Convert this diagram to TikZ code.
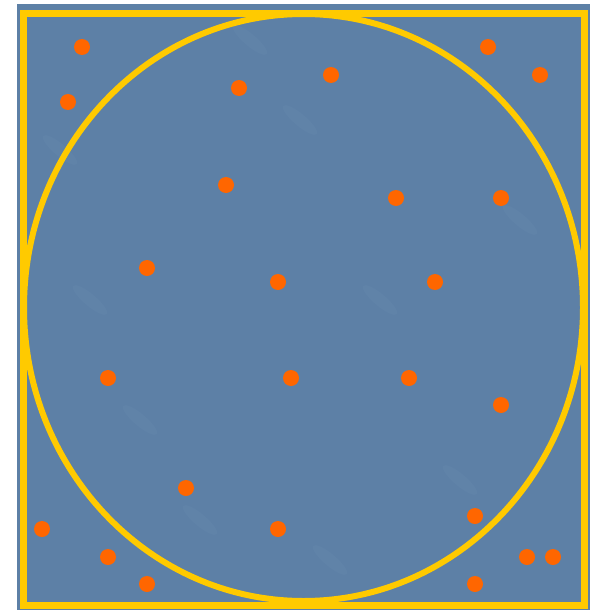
\documentclass[tikz,border=0pt]{standalone}
\begin{document}
\begin{tikzpicture}[x=1pt,y=-1pt,
  dot/.style={circle,fill=dotorange,draw=none,minimum size=16pt,inner sep=0pt},
  frame/.style={draw=frameyellow,line width=7pt},
  ring/.style={draw=frameyellow,line width=6pt}]
\definecolor{bgblue}{RGB}{93,128,166}
\definecolor{bglight}{RGB}{110,145,182}
\definecolor{frameyellow}{RGB}{255,202,0}
\definecolor{dotorange}{RGB}{255,102,0}
\useasboundingbox (0,0) rectangle (590,610);
\fill[white] (0,0) rectangle (590,610);
\fill[bgblue] (17,4) rectangle (590,610);
% subtle texture streaks
\foreach \a/\b in {60/150,140/420,300/120,380/300,460/480,200/520,520/220,90/300,330/560,250/40}{
  \fill[bglight,opacity=0.18] (\a,\b) ellipse [x radius=22, y radius=6, rotate=-40];
}
\draw[frame] (23,13.5) rectangle (584,605);
\draw[ring] (303.5,307.5) ellipse [x radius=279.5, y radius=293.5];
\foreach \n/\x/\y in {1/82/47,2/488/47,3/540/75,4/68/102,5/239/88,6/331/75,
  7/226/185,8/396/198,9/501/198,10/147/268,11/278/282,12/435/282,
  13/108/378,14/291/378,15/409/378,16/501/405,17/186/488,18/42/529,
  19/278/529,20/475/516,21/108/557,22/527/557,23/553/557,24/147/584,25/475/584}{
  \node[dot] (d\n) at (\x,\y) {};
}
\end{tikzpicture}
\end{document}
